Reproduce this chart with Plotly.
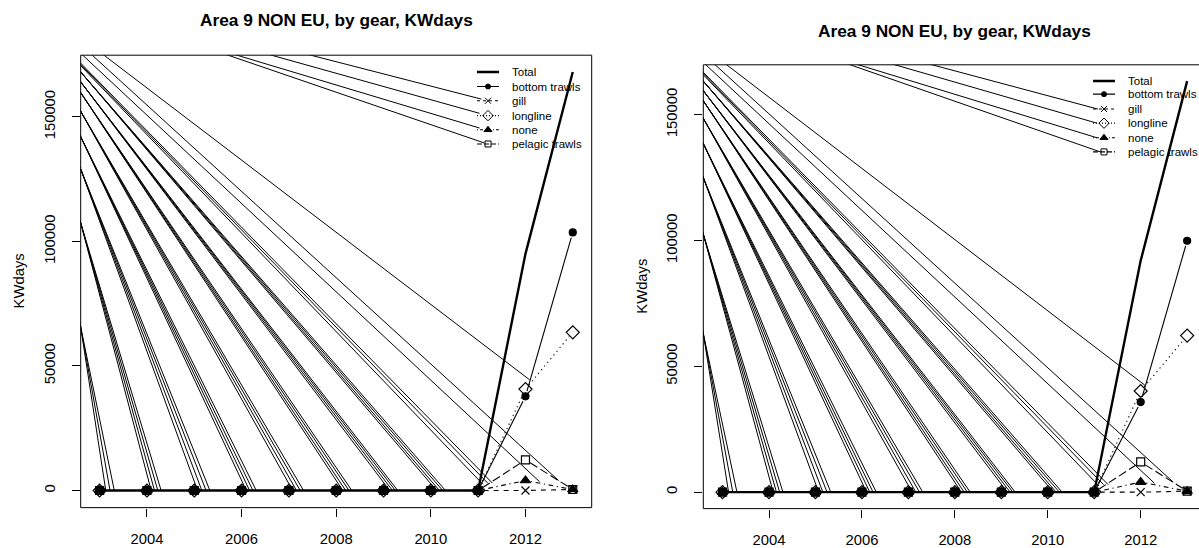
import plotly.graph_objects as go

W, H = 1199, 548
years = list(range(2003, 2014))

# ---------------- data ----------------
# left panel
L_total    = [0, 0, 0, 0, 0, 0, 0, 0, 0, 95000, 168000]
L_bottom   = [0, 0, 0, 0, 0, 0, 0, 0, 0, 37800, 103600]
L_gill     = [0, 0, 0, 0, 0, 0, 0, 0, 0, 0, 400]
L_longline = [0, 0, 0, 0, 0, 0, 0, 0, 0, 40700, 63500]
L_none     = [0, 0, 0, 0, 0, 0, 0, 0, 0, 4000, 400]
L_pelagic  = [0, 0, 0, 0, 0, 0, 0, 0, 0, 12300, 400]
# right panel
R_total    = [0, 0, 0, 0, 0, 0, 0, 0, 0, 92000, 163300]
R_bottom   = [0, 0, 0, 0, 0, 0, 0, 0, 0, 35800, 99900]
R_gill     = [0, 0, 0, 0, 0, 0, 0, 0, 0, 0, 400]
R_longline = [0, 0, 0, 0, 0, 0, 0, 0, 0, 40200, 62200]
R_none     = [0, 0, 0, 0, 0, 0, 0, 0, 0, 4000, 400]
R_pelagic  = [0, 0, 0, 0, 0, 0, 0, 0, 0, 12000, 400]

# stray "fan" lines: value where each bundle leaves the left frame, and its feet on y=0
L_fan_edge = [65600, 107400, 129000, 142000, 152200, 159700, 164000, 168000]
R_fan_edge = [63000, 102500, 125000, 138500, 148500, 155500, 159500, 163300]
fan_feet = [
    [2003.13, 2003.22, 2003.31],
    [2004.09, 2004.16, 2004.23, 2004.30],
    [2005.07, 2005.16, 2005.25, 2005.33],
    [2006.10, 2006.17, 2006.24, 2006.31],
    [2007.08, 2007.16, 2007.24, 2007.31],
    [2008.14, 2008.20, 2008.27, 2008.33],
    [2009.13, 2009.19, 2009.25, 2009.30],
    [2010.12, 2010.18, 2010.25, 2010.31],
]
# other stray straight lines (x0, y0, x1, y1)
L_long = [
    (2003.04, 175500, 2012.09, 44400),
    (2007.31, 175500, 2011.07, 157100),
    (2006.49, 175500, 2011.03, 151400),
    (2005.77, 175500, 2011.03, 145500),
    (2005.60, 175500, 2011.13, 139500),
    (2002.55, 171500, 2011.10, 2500),
    (2002.55, 172000, 2011.20, 3000),
    (2002.55, 172500, 2011.30, 3000),
    (2002.60, 175500, 2012.30, 3500),
    (2002.80, 175500, 2012.70, 4000),
]
R_long = [
    (2003.04, 170500, 2012.09, 42500),
    (2007.37, 170500, 2011.08, 152200),
    (2006.58, 170500, 2011.06, 146600),
    (2005.80, 170500, 2011.06, 140800),
    (2005.64, 170500, 2011.13, 135200),
    (2002.55, 166500, 2011.10, 2500),
    (2002.55, 167000, 2011.20, 3000),
    (2002.55, 167500, 2011.30, 3000),
    (2002.60, 170500, 2012.30, 3500),
    (2002.80, 170500, 2012.70, 4000),
]

gear_names = ["Total", "bottom trawls", "gill", "longline", "none", "pelagic trawls"]

# ---------------- layout geometry (pixels) ----------------
PANELS = [
    dict(x0=80.7, x1=591.7, y0=55.7, y1=512.3, xr=[2002.6, 2013.4], yr=[-6880, 174740],
         title_y=20, klab_x=19, leg_x=477, leg_rows=[72.7, 87.3, 101.7, 116.7, 131.0, 145.3],
         series=[L_total, L_bottom, L_gill, L_longline, L_none, L_pelagic],
         fan_edge=L_fan_edge, long=L_long, right_edge=True),
    dict(x0=703.3, x1=1199.0, y0=65.4, y1=513.3, xr=[2002.586, 2013.255], yr=[-6535, 169800],
         title_y=31, klab_x=642, leg_x=1093, leg_rows=[81.7, 95.0, 110.0, 124.3, 139.0, 153.3],
         series=[R_total, R_bottom, R_gill, R_longline, R_none, R_pelagic],
         fan_edge=R_fan_edge, long=R_long, right_edge=False),
]

styles = [
    dict(width=2.4, dash="solid", symbol=None, ldash="solid"),
    dict(width=1.1, dash="solid", symbol="circle", msize=7, ldash="solid"),
    dict(width=1.1, dash="5px,5px", symbol="x-thin-open", msize=8, ldash="3px,3px"),
    dict(width=1.1, dash="1.2px,3.6px", symbol="diamond-open", msize=10, ldash="1px,2px"),
    dict(width=1.1, dash="1.2px,3.6px,4.8px,3.6px", symbol="triangle-up", msize=9, ldash="1px,2px,3px,2px"),
    dict(width=1.1, dash="8.4px,3.6px", symbol="square-open", msize=8, ldash="5px,2px"),
]

fig = go.Figure()
layout = dict(width=W, height=H, margin=dict(l=0, r=0, t=0, b=0),
              paper_bgcolor="white", plot_bgcolor="white", showlegend=False,
              annotations=[], shapes=[])
FONT = "Liberation Sans, Arial, sans-serif"

for i, P in enumerate(PANELS):
    xa = "x" if i == 0 else "x2"
    ya = "y" if i == 0 else "y2"
    xk = "xaxis" if i == 0 else "xaxis2"
    yk = "yaxis" if i == 0 else "yaxis2"
    pxy = (P["x1"] - P["x0"]) / (P["xr"][1] - P["xr"][0])
    pyv = (P["y1"] - P["y0"]) / (P["yr"][1] - P["yr"][0])

    def d2p(x, y):
        return P["x0"] + (x - P["xr"][0]) * pxy, P["y1"] - (y - P["yr"][0]) * pyv

    def p2d(px, py):
        return P["xr"][0] + (px - P["x0"]) / pxy, P["yr"][0] + (P["y1"] - py) / pyv

    layout[xk] = dict(domain=[P["x0"] / W, P["x1"] / W], range=P["xr"], anchor=ya,
                      tickvals=[2004, 2006, 2008, 2010, 2012], ticks="outside", ticklen=8,
                      tickcolor="black", showgrid=False, zeroline=False, showline=False,
                      tickfont=dict(family=FONT, size=14.8, color="black"),
                      ticklabelstandoff=10, fixedrange=True)
    layout[yk] = dict(domain=[1 - P["y1"] / H, 1 - P["y0"] / H], range=P["yr"], anchor=xa,
                      tickvals=[0, 50000, 100000, 150000], ticktext=["0", "50000", "100000", "150000"],
                      ticks="outside", ticklen=8, tickcolor="black", tickangle=-90,
                      showgrid=False, zeroline=False, showline=False,
                      tickfont=dict(family=FONT, size=14.8, color="black"),
                      ticklabelstandoff=11, fixedrange=True)

    # frame
    xs0, xs1 = P["x0"] / W, P["x1"] / W
    ys0, ys1 = 1 - P["y1"] / H, 1 - P["y0"] / H
    ln = dict(color="black", width=1)
    layout["shapes"].append(dict(type="line", xref="paper", yref="paper", x0=xs0, x1=xs1, y0=ys0, y1=ys0, line=ln))
    layout["shapes"].append(dict(type="line", xref="paper", yref="paper", x0=xs0, x1=xs1, y0=ys1, y1=ys1, line=ln))
    layout["shapes"].append(dict(type="line", xref="paper", yref="paper", x0=xs0, x1=xs0, y0=ys0, y1=ys1, line=ln))
    if P["right_edge"]:
        layout["shapes"].append(dict(type="line", xref="paper", yref="paper", x0=xs1, x1=xs1, y0=ys0, y1=ys1, line=ln))

    # stray lines (fans + long)
    sx, sy = [], []
    xl = P["xr"][0]
    for edge, feet in zip(P["fan_edge"], fan_feet):
        for f in feet:
            sx += [xl - 0.02, f, None]
            sy += [edge + (edge / (f - xl)) * 0.02, 0, None]
    for (a, b, c, d) in P["long"]:
        sx += [a, c, None]
        sy += [b, d, None]
    fig.add_trace(go.Scatter(x=sx, y=sy, mode="lines", xaxis=xa, yaxis=ya,
                             line=dict(color="black", width=1.0), hoverinfo="skip"))

    # gear series: type "b" lines with gaps near points
    gap = 5.5
    for k in range(1, 6):
        vals = P["series"][k]
        st = styles[k]
        gx, gy = [], []
        for j in range(len(years) - 1):
            ax, ay = d2p(years[j], vals[j])
            bx, by = d2p(years[j + 1], vals[j + 1])
            L = ((bx - ax) ** 2 + (by - ay) ** 2) ** 0.5
            if L <= 2 * gap:
                continue
            ux, uy = (bx - ax) / L, (by - ay) / L
            p0 = p2d(ax + ux * gap, ay + uy * gap)
            p1 = p2d(bx - ux * gap, by - uy * gap)
            gx += [p0[0], p1[0], None]
            gy += [p0[1], p1[1], None]
        fig.add_trace(go.Scatter(x=gx, y=gy, mode="lines", xaxis=xa, yaxis=ya,
                                 line=dict(color="black", width=st["width"], dash=st["dash"]),
                                 hoverinfo="skip"))
    for k in range(1, 6):
        vals = P["series"][k]
        st = styles[k]
        fig.add_trace(go.Scatter(x=years, y=vals, mode="markers", xaxis=xa, yaxis=ya, cliponaxis=False,
                                 marker=dict(symbol=st["symbol"], size=st["msize"], color="black",
                                             line=dict(color="black", width=1.2)),
                                 hoverinfo="skip"))
    # Total
    fig.add_trace(go.Scatter(x=years, y=P["series"][0], mode="lines", xaxis=xa, yaxis=ya,
                             line=dict(color="black", width=styles[0]["width"]), hoverinfo="skip"))

    # legend (positioned in pixels, converted to data units)
    for k, name in enumerate(gear_names):
        st = styles[k]
        rowy = P["leg_rows"][k]
        a = p2d(P["leg_x"], rowy)
        b = p2d(P["leg_x"] + 22, rowy)
        c = p2d(P["leg_x"] + 11, rowy)
        fig.add_trace(go.Scatter(x=[a[0], b[0]], y=[a[1], b[1]], mode="lines", xaxis=xa, yaxis=ya,
                                 line=dict(color="black", width=st["width"], dash=st["ldash"]),
                                 hoverinfo="skip"))
        if st["symbol"]:
            fig.add_trace(go.Scatter(x=[c[0]], y=[c[1]], mode="markers", xaxis=xa, yaxis=ya, cliponaxis=False,
                                     marker=dict(symbol=st["symbol"], size=st["msize"] - 2, color="black",
                                                 line=dict(color="black", width=1)),
                                     hoverinfo="skip"))
        layout["annotations"].append(dict(xref="paper", yref="paper", x=(P["leg_x"] + 33) / W,
                                          y=1 - rowy / H, xanchor="left", yanchor="middle",
                                          text=name, showarrow=False,
                                          font=dict(family=FONT, size=11.5, color="black")))

    # title and y label
    layout["annotations"].append(dict(xref="paper", yref="paper", x=((P["x0"] + (P["x0"] + 10.8 * pxy)) / 2) / W,
                                      y=1 - P["title_y"] / H, xanchor="center", yanchor="middle",
                                      text="<b>Area 9 NON EU, by gear, KWdays</b>", showarrow=False,
                                      font=dict(family=FONT, size=17.3, color="black")))
    layout["annotations"].append(dict(xref="paper", yref="paper", x=P["klab_x"] / W,
                                      y=1 - ((P["y0"] + P["y1"]) / 2) / H, xanchor="center", yanchor="middle",
                                      text="KWdays", textangle=-90, showarrow=False,
                                      font=dict(family=FONT, size=14.8, color="black")))

fig.update_layout(**layout)
fig.write_html("out.html", config={"displayModeBar": False, "staticPlot": True},
               post_script="document.body.style.margin='0px';document.body.style.overflow='hidden';")
